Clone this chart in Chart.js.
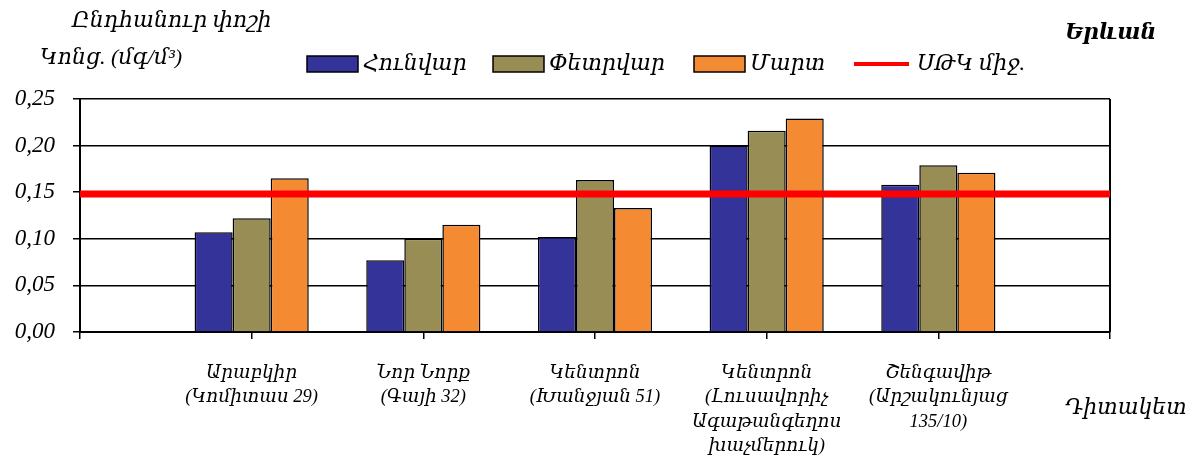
<!DOCTYPE html>
<html>
<head>
<meta charset="utf-8">
<title>Ընդհանուր փոշի — Երևան</title>
<script src="https://cdn.jsdelivr.net/npm/chart.js@4.4.0/dist/chart.umd.min.js"></script>
<style>
  html, body { margin: 0; padding: 0; background: #fff; }
  #wrap { width: 1197px; height: 472px; position: relative; }
</style>
</head>
<body>
<div id="wrap"><canvas id="dustChart"></canvas></div>
<script>
// monitoring posts along the x axis
var posts = [
  ["Արաբկիր", "(Կոմիտաս 29)"],
  ["Նոր Նորք", "(Գայի 32)"],
  ["Կենտրոն", "(Խանջյան 51)"],
  ["Կենտրոն", "(Լուսավորիչ", "Ագաթանգեղոս", "խաչմերուկ)"],
  ["Շենգավիթ", "(Արշակունյաց", "135/10)"]
];

// monthly mean concentrations, mg/m3
var january  = [0.107, 0.077, 0.102, 0.200, 0.158];
var february = [0.122, 0.100, 0.163, 0.216, 0.179];
var march    = [0.165, 0.115, 0.133, 0.229, 0.171];
var monthNames = ["Հունվար", "Փետրվար", "Մարտ"];

// average permissible concentration
var macValue = 0.148;
var macName = "ՍԹԿ միջ.";

var yTicks = [0, 0.05, 0.10, 0.15, 0.20, 0.25];

var FONT = '"Liberation Serif", "DejaVu Serif", serif';

// an empty slot on both ends of the axis
function pad(arr) {
  return [null].concat(arr, [null]);
}
var labels = [""].concat(posts, [""]);

var barStyle = {
  borderColor: "#000",
  borderWidth: 1.5,
  barPercentage: 1,
  categoryPercentage: 0.665
};

var datasets = [
  Object.assign({ label: monthNames[0], data: pad(january),  backgroundColor: "#333399" }, barStyle),
  Object.assign({ label: monthNames[1], data: pad(february), backgroundColor: "#978D55" }, barStyle),
  Object.assign({ label: monthNames[2], data: pad(march),    backgroundColor: "#F48A31" }, barStyle),
  {
    type: "line",
    label: macName,
    data: labels.map(function () { return macValue; }),
    borderColor: "#ff0000",
    borderWidth: 7,
    pointRadius: 0,
    fill: false,
    order: -1
  }
];

// titles, legend and the right frame edge
var decorations = {
  id: "decorations",
  beforeDatasetsDraw: function (chart) {
    var ctx = chart.ctx, a = chart.chartArea;
    ctx.save();
    ctx.strokeStyle = "#000";
    ctx.lineWidth = 2;
    ctx.beginPath();
    ctx.moveTo(a.right, a.top);
    ctx.lineTo(a.right, a.bottom);
    ctx.stroke();
    ctx.restore();
  },
  afterDraw: function (chart) {
    var ctx = chart.ctx;
    ctx.save();
    ctx.fillStyle = "#000";
    ctx.textBaseline = "middle";
    ctx.textAlign = "left";
    ctx.font = "italic 22px " + FONT;
    ctx.fillText("Ընդհանուր փոշի", 72, 21);
    ctx.fillText("Կոնց. (մգ/մ³)", 40, 58);
    ctx.fillText("Դիտակետ", 1065, 408);
    ctx.font = "italic bold 22px " + FONT;
    ctx.fillText("Երևան", 1065, 33);

    // legend
    var starts = [307, 493, 694, 854];
    var y = 64;
    ctx.font = "italic 22px " + FONT;
    chart.data.datasets.forEach(function (ds, i) {
      var x = starts[i];
      if (ds.type === "line") {
        ctx.strokeStyle = ds.borderColor;
        ctx.lineWidth = 4;
        ctx.beginPath();
        ctx.moveTo(x, y);
        ctx.lineTo(x + 55, y);
        ctx.stroke();
        ctx.fillStyle = "#000";
        ctx.fillText(ds.label, x + 63, y);
      } else {
        ctx.fillStyle = ds.backgroundColor;
        ctx.fillRect(x, y - 8, 51, 16);
        ctx.strokeStyle = "#000";
        ctx.lineWidth = 1.5;
        ctx.strokeRect(x, y - 8, 51, 16);
        ctx.fillStyle = "#000";
        ctx.fillText(ds.label, x + 56, y);
      }
    });
    ctx.restore();
  }
};

var ctx = document.getElementById("dustChart");

var chart = new Chart(ctx, {
  type: "bar",
  data: {
    labels: labels,
    datasets: datasets
  },
  options: {
    responsive: true,
    maintainAspectRatio: false,
    animation: false,
    layout: {
      padding: { top: 99, right: 87, left: 0, bottom: 0 }
    },
    plugins: {
      legend: { display: false },
      tooltip: { enabled: false }
    },
    scales: {
      x: {
        type: "category",
        offset: false,
        grid: {
          offset: false,
          drawOnChartArea: false,
          color: "#000",
          lineWidth: 1.5,
          tickLength: 7
        },
        border: { color: "#000", width: 2 },
        ticks: {
          autoSkip: false,
          maxRotation: 0,
          padding: 22,
          color: "#000",
          font: { family: FONT, size: 18.5, style: "italic", lineHeight: 1.32 }
        },
        afterFit: function (scale) { scale.height = 140; }
      },
      y: {
        min: 0,
        max: 0.25,
        afterBuildTicks: function (scale) {
          scale.ticks = yTicks.map(function (v) { return { value: v }; });
        },
        grid: {
          color: "#000",
          lineWidth: 1.5,
          tickLength: 7
        },
        border: { color: "#000", width: 2 },
        ticks: {
          padding: 18,
          color: "#000",
          font: { family: FONT, size: 23, style: "italic" },
          callback: function (v) { return Number(v).toFixed(2).replace(".", ","); }
        },
        afterFit: function (scale) { scale.width = 80; }
      }
    }
  },
  plugins: [decorations]
});
</script>
</body>
</html>
